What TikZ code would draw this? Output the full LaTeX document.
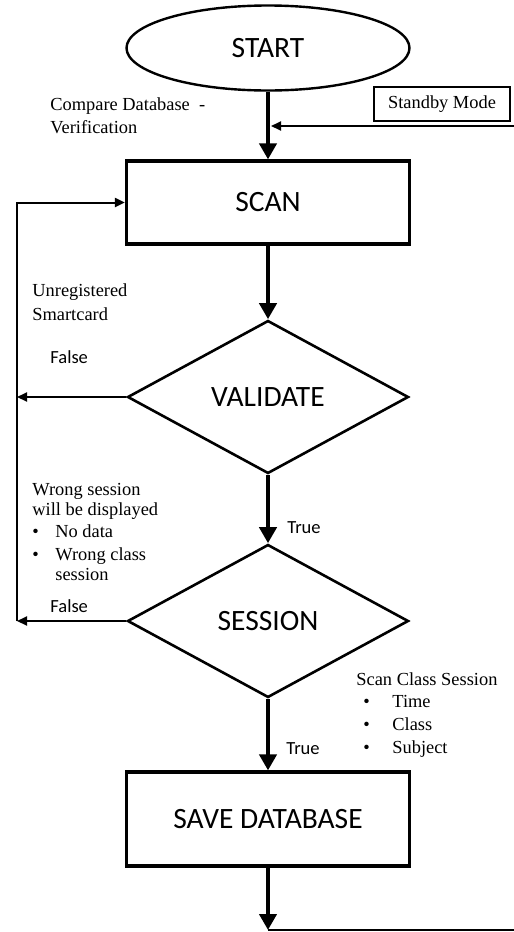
\documentclass[tikz,border=0pt]{standalone}
\usepackage{fontspec}
\setmainfont{Liberation Serif}
\newfontfamily\calibri{Carlito}
\usetikzlibrary{shapes.geometric, arrows.meta, positioning}
\tikzset{
  % Box styles
  termbox/.style={ellipse, draw, line width=1.2pt, minimum width=141.5pt, minimum height=42.5pt, font=\calibri\fontsize{14.75}{17}\selectfont},
  processbox/.style={rectangle, draw, line width=1.6pt, minimum width=141.5pt, font=\calibri\fontsize{14.75}{17}\selectfont},
  decisionbox/.style={diamond, draw, line width=1.3pt, inner sep=0pt, minimum width=140.5pt, minimum height=76.5pt, font=\calibri\fontsize{14.75}{17}\selectfont},
  modebox/.style={rectangle, draw, line width=0.7pt, minimum width=68pt, minimum height=17pt, inner sep=0pt, font=\fontsize{9.2}{11}\selectfont},
  % Text styles
  notetext/.style={inner sep=0pt, anchor=base west, align=left, font=\fontsize{9.2}{11.5}\selectfont},
  labeltext/.style={inner sep=0pt, anchor=base west, font=\calibri\fontsize{9.25}{11}\selectfont},
  % Arrow styles
  arrow/.style={-{Triangle[length=8pt, width=8.5pt]}, line width=2.2pt},
  thinarrow/.style={-{Triangle[length=5pt, width=4.5pt]}, line width=1pt},
  thinline/.style={line width=1pt}
}

\begin{document}
\begin{tikzpicture}[x=0.5pt, y=-0.5pt]
  \fill[white] (0,0) rectangle (514,932);
  \useasboundingbox (0,0) rectangle (514,932);

  % Main flow
  \node[termbox] (start) at (268,48) {START};
  \node[processbox, minimum height=41.5pt] (scan) at (268,202.5) {SCAN};
  \node[decisionbox] (validate) at (268,397) {VALIDATE};
  \node[decisionbox] (session) at (268,621) {SESSION};
  \node[processbox, minimum height=47pt] (savedb) at (268,819) {SAVE DATABASE};

  % Standby input
  \node[modebox] (standby) at (442,104) {Standby Mode};
  \coordinate (modein) at (514,126);
  \coordinate (modeout) at (271,126);

  % Loop and exit points
  \coordinate (loopbot) at (17,621);
  \coordinate (endtip) at (268,930);
  \coordinate (endright) at (514,930);

  \draw[arrow] (start) -- (scan);
  \draw[arrow] (scan) -- (validate);
  \draw[arrow] (validate) -- (session);
  \draw[arrow] (session) -- (savedb);
  \draw[arrow] (savedb) -- (endtip);
  \draw[thinline] (endtip) -- (endright);
  \draw[thinarrow] (modein) -- (modeout);
  \draw[thinarrow] (loopbot) |- (scan.west);
  \draw[thinarrow] (validate.west) -- (validate.west -| loopbot);
  \draw[thinarrow] (session.west) -- (loopbot);

  % Notes (placed at the baseline of their last line)
  \node[notetext] (cmpnote) at (50,133) {Compare Database~~-\\Verification};
  \node[notetext, font=\fontsize{9.2}{12}\selectfont] (unregnote) at (32,320) {Unregistered\\Smartcard};
  \node[notetext, font=\fontsize{9.2}{10}\selectfont] (wrongnote) at (32,580)
    {Wrong session\\[0pt]will be displayed\\[1pt]
     \makebox[11.5pt][l]{\textbullet}No data\\[1.5pt]
     \makebox[11.5pt][l]{\textbullet}Wrong class\\
     \hspace*{11.5pt}session};
  \node[notetext] (scannote) at (356,753)
    {Scan Class Session\\[-0.5pt]
     \hspace*{3.5pt}\makebox[14.5pt][l]{\textbullet}Time\\
     \hspace*{3.5pt}\makebox[14.5pt][l]{\textbullet}Class\\
     \hspace*{3.5pt}\makebox[14.5pt][l]{\textbullet}Subject};

  % Branch labels
  \node[labeltext] (falseA) at (50,363) {False};
  \node[labeltext] (trueA) at (287,533) {True};
  \node[labeltext] (falseB) at (50,612) {False};
  \node[labeltext] (trueB) at (286,754) {True};
\end{tikzpicture}
\end{document}
